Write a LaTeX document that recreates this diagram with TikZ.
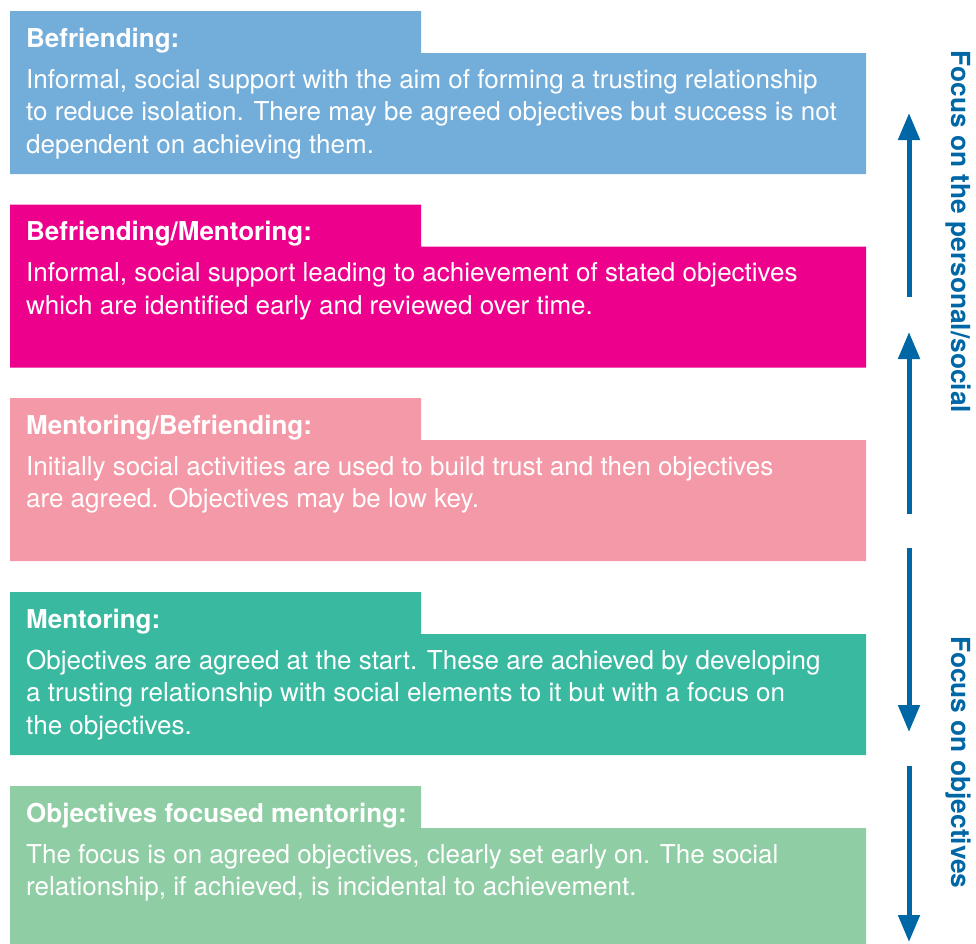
\documentclass[tikz,border=0pt]{standalone}
\usepackage{fontspec}
\setmainfont{TeX Gyre Heros}
\usetikzlibrary{arrows.meta}

\definecolor{befblue}{HTML}{73ADDA}
\definecolor{befmag}{HTML}{EC008C}
\definecolor{menpink}{HTML}{F499A8}
\definecolor{menteal}{HTML}{3AB9A1}
\definecolor{objgreen}{HTML}{8FCDA4}
\definecolor{axisblue}{HTML}{0067A6}

\tikzset{
  pics/tabpanel/.style={code={
    \fill (0,0) -- (411,0) -- (411,42) -- (856,42) -- (856,163) -- (0,163) -- cycle;
  }},
  paneltitle/.style={anchor=base west, inner sep=0pt, text=white,
    font=\fontsize{26}{30}\selectfont\bfseries},
  % multi-line text: the base anchor sits on the last line
  paneltext/.style={anchor=base west, inner sep=0pt, text=white, align=left,
    font=\fontsize{26}{32.5}\selectfont},
  axisarrow/.style={draw=axisblue, line width=5pt,
    -{Triangle[width=21pt,length=27pt]}},
  axislabel/.style={rotate=-90, anchor=base, inner sep=0pt, text=axisblue,
    font=\fontsize{26.3}{30}\selectfont\bfseries},
}

\begin{document}
\begin{tikzpicture}[x=1pt, y=-1pt]
\useasboundingbox (0,0) rectangle (976,943);

% coloured panels, each with a title tab on its upper left
\pic[fill=befblue]  at (10,11)    {tabpanel};
\pic[fill=befmag]   at (10,204.5) {tabpanel};
\pic[fill=menpink]  at (10,398)   {tabpanel};
\pic[fill=menteal]  at (10,592)   {tabpanel};
\begin{scope}
  \clip (0,0) rectangle (976,943);
  \pic[fill=objgreen] at (10,786) {tabpanel};
\end{scope}

% panel titles and descriptions
\node[paneltitle] (t1) at (26,47) {Befriending:};
\node[paneltext]  (d1) at (26,153) {Informal, social support with the aim of forming a trusting relationship\\
to reduce isolation. There may be agreed objectives but success is not\\
dependent on achieving them.};

\node[paneltitle] (t2) at (26,240.5) {Befriending/Mentoring:};
\node[paneltext]  (d2) at (26,314) {Informal, social support leading to achievement of stated objectives\\
which are identified early and reviewed over time.};

\node[paneltitle] (t3) at (26,434) {Mentoring/Befriending:};
\node[paneltext]  (d3) at (26,507.5) {Initially social activities are used to build trust and then objectives\\
are agreed. Objectives may be low key.};

\node[paneltitle] (t4) at (26,628) {Mentoring:};
\node[paneltext]  (d4) at (26,734) {Objectives are agreed at the start. These are achieved by developing\\
a trusting relationship with social elements to it but with a focus on\\
the objectives.};

\node[paneltitle] (t5) at (26,822) {Objectives focused mentoring:};
\node[paneltext]  (d5) at (26,895.5) {The focus is on agreed objectives, clearly set early on. The social\\
relationship, if achieved, is incidental to achievement.};

% the two directions of focus along the right edge
\coordinate (a1s) at (909,297);
\coordinate (a1e) at (909,113);
\coordinate (a2s) at (909,514);
\coordinate (a2e) at (909,332);
\coordinate (a3s) at (909,548);
\coordinate (a3e) at (909,732);
\coordinate (a4s) at (909,766);
\coordinate (a4e) at (909,942);
\draw[axisarrow] (a1s) -- (a1e);
\draw[axisarrow] (a2s) -- (a2e);
\draw[axisarrow] (a3s) -- (a3e);
\draw[axisarrow] (a4s) -- (a4e);

\node[axislabel] (l1) at (951.5,232) {Focus on the personal/social};
\node[axislabel] (l2) at (951.5,762.5) {Focus on objectives};
\end{tikzpicture}
\end{document}
